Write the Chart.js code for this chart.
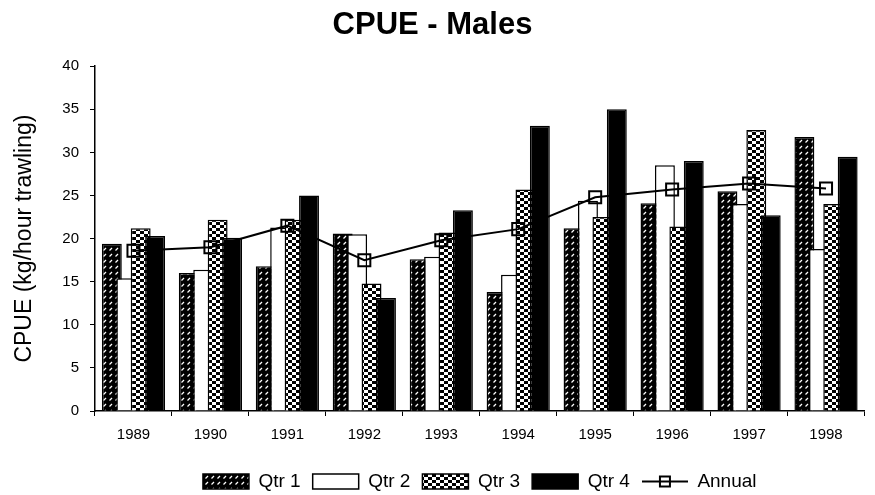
<!DOCTYPE html>
<html>
<head>
<meta charset="utf-8">
<script src="https://cdn.jsdelivr.net/npm/chart.js@4/dist/chart.umd.min.js"></script>
<style>
    html, body { margin: 0; padding: 0; background: #fff; }
</style>
</head>
<body>
<canvas id="cpue_chart" width="875" height="495"></canvas>
<script>
let years = ['1989', '1990', '1991', '1992', '1993', '1994', '1995', '1996', '1997', '1998']
let qtr1 = [19.4, 16.0, 16.8, 20.6, 17.6, 13.8, 21.2, 24.1, 25.5, 31.8]
let qtr2 = [15.4, 16.4, 21.3, 20.5, 17.9, 15.8, 24.4, 28.5, 24.0, 18.8]
let qtr3 = [21.2, 22.2, 22.2, 14.8, 20.7, 25.7, 22.5, 21.4, 32.6, 24.0]
let qtr4 = [20.3, 20.1, 25.0, 13.1, 23.3, 33.1, 35.0, 29.0, 22.7, 29.5]
let annual = [18.6, 19.0, 21.5, 17.5, 19.8, 21.1, 24.8, 25.7, 26.4, 25.8]
let yTicks = [0, 5, 10, 15, 20, 25, 30, 35, 40]

let fontFamily = "'Liberation Sans', Arial, sans-serif"

// hatch fills like the old excel patterns
function makePattern(w, h, drawTile) {
    let c = document.createElement('canvas')
    c.width = w
    c.height = h
    let g = c.getContext('2d')
    drawTile(g)
    return c.getContext('2d').createPattern(c, 'repeat')
}
let diagPattern = makePattern(6, 6, function (g) {
    g.fillStyle = '#000'
    g.fillRect(0, 0, 6, 6)
    g.strokeStyle = '#fff'
    g.lineWidth = 1.2
    g.beginPath()
    g.moveTo(1.5, 4.5)
    g.lineTo(4, 2)
    g.stroke()
})
let checkPattern = makePattern(8, 6, function (g) {
    g.fillStyle = '#fff'
    g.fillRect(0, 0, 8, 6)
    g.fillStyle = '#000'
    g.fillRect(0, 0, 4, 3)
    g.fillRect(4, 3, 4, 3)
})

// legend symbol for the annual line: line with a square
let annualIcon = document.createElement('canvas')
annualIcon.width = 46
annualIcon.height = 16
let ai = annualIcon.getContext('2d')
ai.strokeStyle = '#000'
ai.lineWidth = 2
ai.beginPath()
ai.moveTo(0, 8)
ai.lineTo(46, 8)
ai.stroke()
ai.strokeRect(18, 3, 10, 10)

// later quarters sit on top of earlier ones, line on top of all
let drawOrder = {
    id: 'drawOrder',
    beforeDatasetDraw: function (chart, args) {
        if (!chart.$ownDraw) return false
    },
    afterDatasetsDraw: function (chart) {
        chart.$ownDraw = true
        for (let i = 0; i < chart.data.datasets.length; i++) {
            let meta = chart.getDatasetMeta(i)
            if (meta.visible) meta.controller.draw()
        }
        chart.$ownDraw = false
    }
}

function barSet(label, data, fill) {
    return {
        type: 'bar',
        label: label,
        data: data,
        backgroundColor: fill,
        borderColor: '#000',
        borderWidth: 1.5,
        categoryPercentage: 0.75,
        barPercentage: 1.38,
        pointStyle: 'rect'
    }
}

let ctx = document.getElementById('cpue_chart')
let cpueChart = new Chart(ctx, {
    data: {
        labels: years,
        datasets: [
            barSet('Qtr 1', qtr1, diagPattern),
            barSet('Qtr 2', qtr2, '#fff'),
            barSet('Qtr 3', qtr3, checkPattern),
            barSet('Qtr 4', qtr4, '#000'),
            {
                type: 'line',
                label: 'Annual',
                data: annual,
                borderColor: '#000',
                borderWidth: 2,
                pointStyle: 'rect',
                pointRadius: 8.5,
                pointBorderWidth: 2,
                pointBorderColor: '#000',
                pointBackgroundColor: 'rgba(0,0,0,0)',
                tension: 0
            }
        ]
    },
    options: {
        responsive: false,
        animation: false,
        devicePixelRatio: 1,
        layout: {
            padding: { left: 0, right: 10, top: 0, bottom: -6 }
        },
        plugins: {
            tooltip: { enabled: false },
            title: {
                display: true,
                text: 'CPUE - Males',
                color: '#000',
                font: { family: fontFamily, size: 31, weight: 'bold' },
                padding: { top: 7, bottom: 22 }
            },
            legend: {
                position: 'bottom',
                fullSize: false,
                labels: {
                    color: '#000',
                    font: { family: fontFamily, size: 19 },
                    usePointStyle: true,
                    pointStyleWidth: 46,
                    boxHeight: 15,
                    padding: 12,
                    generateLabels: function (chart) {
                        let items = Chart.defaults.plugins.legend.labels.generateLabels(chart)
                        items.forEach(function (it) {
                            if (it.text === 'Annual') {
                                it.pointStyle = annualIcon
                            } else {
                                it.pointStyle = 'rect'
                                it.lineWidth = 1.5
                            }
                        })
                        return items
                    }
                }
            }
        },
        scales: {
            x: {
                grid: {
                    offset: true,
                    drawOnChartArea: false,
                    color: '#000',
                    tickLength: 5
                },
                border: { color: '#000', width: 1.5 },
                ticks: {
                    color: '#000',
                    padding: 10,
                    font: { family: fontFamily, size: 15 }
                },
                afterFit: function (scale) { scale.height = 49 }
            },
            y: {
                min: 0,
                max: 40,
                afterBuildTicks: function (scale) {
                    scale.ticks = yTicks.map(function (v) { return { value: v } })
                },
                grid: {
                    drawOnChartArea: false,
                    color: '#000',
                    tickLength: 5
                },
                border: { color: '#000', width: 1.5 },
                ticks: {
                    color: '#000',
                    padding: 11,
                    font: { family: fontFamily, size: 15 }
                },
                title: {
                    display: true,
                    text: 'CPUE (kg/hour trawling)',
                    color: '#000',
                    font: { family: fontFamily, size: 23 },
                    padding: { top: 11, bottom: 4 }
                },
                afterFit: function (scale) { scale.width = 95 }
            }
        }
    },
    plugins: [drawOrder]
})
</script>
</body>
</html>
